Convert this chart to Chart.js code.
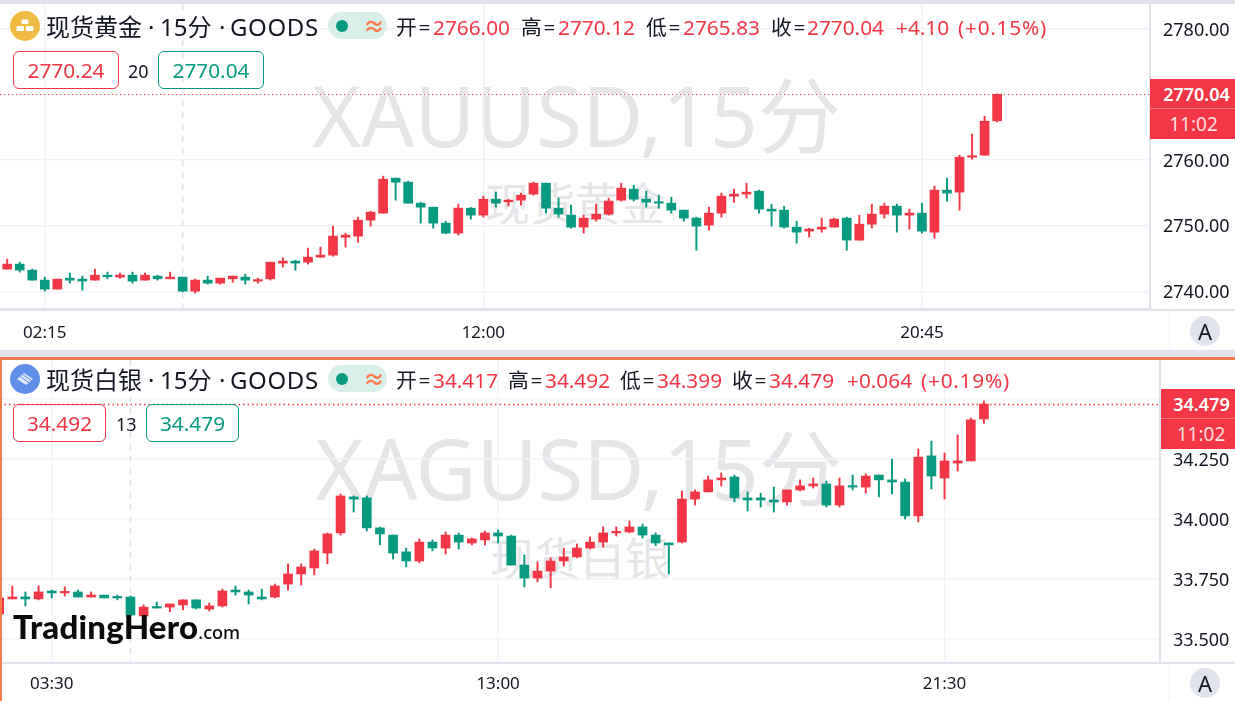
<!DOCTYPE html>
<html><head><meta charset="utf-8">
<script src="https://cdn.jsdelivr.net/npm/chart.js@4/dist/chart.umd.min.js"></script>
<style>
html,body{margin:0;padding:0;background:#fff;overflow:hidden;width:1235px;height:701px;font-family:"Noto Sans","Noto Sans CJK SC",sans-serif;color:#131722}
.abs{position:absolute;white-space:nowrap;line-height:1}
canvas{position:absolute;left:0}
.wm{color:#e6e6e9}
.wm1{font-size:83.5px}
.wm2{font-size:45px}
.t{font-size:24px;color:#131722}
.o{font-size:20.8px;color:#131722}
.l{letter-spacing:1.6px}
.p{letter-spacing:.75px}
.r{color:#f23645}
.box{border:1.5px solid;border-radius:6px;box-sizing:border-box;height:38px;font-size:20.8px;line-height:36px;text-align:center;position:absolute}
.pill{position:absolute;left:328px;width:59px;height:27px;border-radius:13.5px;background:#d9f0ea}
.dot{position:absolute;left:8px;top:7.5px;width:12px;height:12px;border-radius:6px;background:#089981}
.wave{position:absolute;left:35px;top:2px;font-size:22px;line-height:22px;color:#ff7b4a;font-weight:700}
.ic{position:absolute;left:10px;width:30px;height:30px}
.pr{position:absolute;background:#f23645;color:#fff;text-align:center;box-sizing:border-box}
.aa{position:absolute;left:1190px;width:30px;height:30px;border-radius:15px;background:#e0e3eb;text-align:center;line-height:30px;font-size:22px;color:#131722}
.bar{position:absolute;background:#e0e3eb}
</style></head>
<body>
<!-- watermarks sit beneath the transparent canvases -->
<div class="abs wm wm1" style="left:312px;top:73px">XAUUSD,15分</div>
<div class="abs wm wm2" style="left:485px;top:181px">现货黄金</div>
<div class="abs wm wm1" style="left:315px;top:426px">XAGUSD,15分</div>
<div class="abs wm wm2" style="left:490px;top:536px">现货白银</div>

<canvas id="goldChart" width="1235" height="351" style="top:0;width:1235px;height:351px"></canvas>
<canvas id="silverChart" width="1235" height="350" style="top:351px;width:1235px;height:350px"></canvas>

<div class="bar" style="left:0;top:0;width:1235px;height:4px"></div>
<div class="bar" style="left:0;top:308.5px;width:1235px;height:2px"></div>
<div class="bar" style="left:0;top:662px;width:1235px;height:2px"></div>
<div class="bar" style="left:0;top:350px;width:1235px;height:8px"></div>
<div class="abs" style="left:0;top:357px;width:1235px;height:3px;background:#f97b4b"></div>
<div class="abs" style="left:0;top:357px;width:1.5px;height:344px;background:#f97b4b"></div>
<div class="abs" style="left:1169px;top:310px;width:1px;height:40px;background:#f0f3fa"></div>
<div class="abs" style="left:1169px;top:664px;width:1px;height:37px;background:#f0f3fa"></div>

<!-- gold header -->
<svg class="ic" style="top:11px" viewBox="0 0 30 30"><circle cx="15" cy="15" r="15" fill="#f0bb42"/><rect x="11.5" y="8.5" width="7" height="4.5" rx="1" fill="#fff"/><rect x="6.5" y="15" width="7.5" height="5" rx="1" fill="#fff"/><rect x="16" y="15" width="7.5" height="5" rx="1" fill="#fff"/></svg>
<div class="abs t" style="left:46px;top:15px">现货黄金</div>
<div class="abs t" style="left:148px;top:15px">·</div>
<div class="abs t" style="left:160px;top:15px">15分</div>
<div class="abs t" style="left:219px;top:15px">·</div>
<div class="abs t" style="left:230px;top:15px;letter-spacing:.6px">GOODS</div>
<div class="pill" style="top:12px"><div class="dot"></div><div class="wave">≈</div></div>
<div class="abs o l" style="left:396px;top:17px">开=</div><div class="abs o r" style="left:433px;top:17px">2766.00</div>
<div class="abs o l" style="left:521px;top:17px">高=</div><div class="abs o r" style="left:558px;top:17px">2770.12</div>
<div class="abs o l" style="left:646px;top:17px">低=</div><div class="abs o r" style="left:683px;top:17px">2765.83</div>
<div class="abs o l" style="left:771px;top:17px">收=</div><div class="abs o r" style="left:807px;top:17px">2770.04</div>
<div class="abs o r" style="left:896px;top:17px">+4.10</div><div class="abs o r p" style="left:958px;top:17px">(+0.15%)</div>
<div class="box" style="left:13px;top:51px;width:106px;color:#f23645;border-color:#f23645">2770.24</div>
<div class="abs" style="left:128px;top:62px;font-size:18px">20</div>
<div class="box" style="left:158px;top:51px;width:106px;color:#089981;border-color:#089981">2770.04</div>
<div class="pr" style="left:1150px;top:79px;width:85px;height:30px;line-height:31px;font-size:18px;font-weight:600;padding-left:8px;border-bottom:1px solid #f7727c">2770.04</div>
<div class="pr" style="left:1150px;top:109px;width:85px;height:30px;line-height:31px;font-size:19px;padding-left:2px;color:#fdd">11:02</div>
<div class="aa" style="top:316px">A</div>

<!-- silver header -->
<svg class="ic" style="top:364px" viewBox="0 0 30 30"><circle cx="15" cy="15" r="15" fill="#5f8fe8"/><path d="M7 15l7-6 9 6-7 6z" fill="#dfe8fb"/><path d="M10 12.5l9 6M12.5 10.5l9 6" stroke="#5f8fe8" stroke-width="1"/></svg>
<div class="abs t" style="left:46px;top:368px">现货白银</div>
<div class="abs t" style="left:148px;top:368px">·</div>
<div class="abs t" style="left:160px;top:368px">15分</div>
<div class="abs t" style="left:219px;top:368px">·</div>
<div class="abs t" style="left:230px;top:368px;letter-spacing:.6px">GOODS</div>
<div class="pill" style="top:365px"><div class="dot"></div><div class="wave">≈</div></div>
<div class="abs o l" style="left:396px;top:370px">开=</div><div class="abs o r" style="left:433px;top:370px">34.417</div>
<div class="abs o l" style="left:508px;top:370px">高=</div><div class="abs o r" style="left:545px;top:370px">34.492</div>
<div class="abs o l" style="left:620px;top:370px">低=</div><div class="abs o r" style="left:657px;top:370px">34.399</div>
<div class="abs o l" style="left:732px;top:370px">收=</div><div class="abs o r" style="left:769px;top:370px">34.479</div>
<div class="abs o r" style="left:847px;top:370px">+0.064</div><div class="abs o r p" style="left:921px;top:370px">(+0.19%)</div>
<div class="box" style="left:13px;top:404px;width:93px;color:#f23645;border-color:#f23645">34.492</div>
<div class="abs" style="left:116px;top:415px;font-size:18px">13</div>
<div class="box" style="left:146px;top:404px;width:93px;color:#089981;border-color:#089981">34.479</div>
<div class="pr" style="left:1161px;top:389px;width:74px;height:30px;line-height:31px;font-size:18px;font-weight:600;padding-left:7px;border-bottom:1px solid #f7727c">34.479</div>
<div class="pr" style="left:1161px;top:419px;width:74px;height:30px;line-height:31px;font-size:19px;padding-left:6px;color:#fdd">11:02</div>
<div class="aa" style="top:668px">A</div>

<div class="abs" style="left:13px;top:610px;font-family:Lato,sans-serif;font-weight:900;font-size:33px;color:#0b0b0b;letter-spacing:.2px">TradingHero<span style="font-family:'Noto Sans';font-weight:500;font-size:18px;letter-spacing:0">.com</span></div>

<script>
const upColor = '#f23645', downColor = '#089981';

const goldOpen = [2743.40,2744.16,2743.24,2741.72,2740.35,2742.02,2741.87,2741.72,2742.48,2742.18,
2742.48,2741.72,2742.33,2741.92,2742.18,2740.04,2741.72,2741.26,2741.92,2742.18,
2741.57,2741.92,2744.31,2744.62,2744.46,2745.22,2745.53,2748.27,2748.43,2750.86,
2751.93,2757.26,2756.65,2753.45,2752.84,2750.41,2748.88,2752.69,2751.63,2754.06,
2753.66,2753.91,2754.83,2756.50,2752.69,2751.63,2749.80,2751.02,2751.78,2753.91,
2755.59,2754.06,2753.61,2753.45,2752.39,2751.17,2750.10,2751.93,2754.52,2754.83,
2755.28,2752.54,2752.39,2749.80,2749.19,2749.49,2749.80,2751.17,2747.82,2750.25,
2751.78,2753.00,2751.63,2751.93,2749.03,2755.44,2755.13,2760.46,2760.77,2766.00];
const goldHigh = [2744.92,2744.46,2743.40,2742.18,2741.87,2742.79,2742.33,2743.40,2742.94,2742.79,
2742.94,2742.79,2742.48,2742.94,2742.18,2741.87,2742.33,2742.02,2742.33,2742.63,
2742.02,2744.46,2745.12,2744.77,2746.60,2746.75,2749.95,2748.88,2751.32,2752.24,
2757.57,2757.26,2756.81,2753.61,2752.84,2750.71,2753.30,2752.79,2754.52,2755.13,
2754.06,2754.98,2756.65,2756.50,2754.22,2753.15,2751.63,2753.30,2754.22,2756.50,
2756.20,2755.28,2754.67,2754.37,2752.39,2751.32,2752.84,2754.98,2755.59,2756.50,
2755.44,2753.30,2753.00,2750.71,2749.64,2751.17,2751.17,2751.32,2751.63,2753.30,
2753.45,2753.30,2752.54,2753.45,2756.05,2757.26,2760.77,2763.97,2766.71,2770.12];
const goldLow = [2743.40,2742.94,2741.72,2740.04,2740.35,2741.26,2740.20,2741.72,2741.92,2742.02,
2741.26,2741.72,2741.72,2741.92,2739.94,2739.74,2741.11,2741.11,2741.41,2741.11,
2741.26,2741.72,2743.70,2743.24,2744.16,2745.22,2745.38,2746.75,2747.51,2749.95,
2751.93,2753.91,2753.45,2750.41,2749.64,2748.78,2748.58,2751.02,2751.32,2752.84,
2753.00,2753.15,2754.67,2751.93,2751.32,2749.64,2748.88,2750.71,2751.63,2753.76,
2753.76,2752.84,2752.69,2751.93,2750.71,2746.29,2749.34,2751.32,2753.61,2754.22,
2751.93,2749.95,2749.64,2747.36,2748.27,2749.03,2749.80,2746.29,2747.82,2749.64,
2751.17,2749.03,2749.49,2748.88,2748.12,2753.76,2752.39,2760.16,2760.77,2765.83];
const goldClose = [2744.16,2743.24,2741.72,2740.35,2741.87,2741.72,2741.57,2742.48,2742.23,2742.48,
2741.57,2742.48,2741.92,2742.18,2740.04,2741.72,2741.26,2742.02,2742.33,2741.72,
2741.72,2744.46,2744.62,2744.31,2745.22,2745.53,2748.43,2748.58,2750.86,2752.08,
2757.11,2756.65,2753.45,2752.84,2750.41,2748.88,2752.69,2751.63,2754.06,2753.45,
2753.91,2754.67,2756.50,2752.69,2751.78,2749.80,2751.17,2751.78,2753.76,2755.74,
2754.06,2753.61,2753.45,2752.39,2751.17,2749.95,2751.93,2754.52,2754.83,2755.13,
2752.54,2752.24,2749.80,2749.03,2749.49,2749.80,2751.02,2747.82,2750.25,2751.78,
2753.00,2751.63,2751.93,2749.19,2755.44,2754.98,2760.46,2760.62,2765.95,2770.04];
const goldPriceTicks = [2740,2750,2760,2770,2780];
const goldTimeIndex = [3,38,73];
const goldTimeLabels = ['02:15','12:00','20:45'];
const goldSessionBreak = 14;

const silverOpen = [33.604,33.667,33.675,33.667,33.700,33.692,33.696,33.675,33.683,33.675,
33.675,33.596,33.633,33.633,33.642,33.663,33.625,33.638,33.704,33.696,
33.675,33.675,33.729,33.771,33.796,33.858,33.942,34.092,34.088,33.963,
33.933,33.863,33.825,33.904,33.879,33.933,33.900,33.913,33.942,33.929,
33.808,33.754,33.783,33.825,33.842,33.879,33.904,33.942,33.946,33.967,
33.933,33.900,33.904,34.083,34.113,34.163,34.175,34.088,34.088,34.079,
34.071,34.121,34.138,34.146,34.058,34.138,34.133,34.183,34.163,34.154,
34.013,34.263,34.171,34.233,34.242,34.417];
const silverHigh = [33.671,33.721,33.696,33.721,33.704,33.717,33.704,33.696,33.683,33.683,
33.679,33.642,33.654,33.646,33.663,33.663,33.650,33.708,33.721,33.704,
33.708,33.729,33.813,33.813,33.875,33.942,34.104,34.096,34.096,33.967,
33.933,33.879,33.917,33.913,33.946,33.942,33.921,33.950,33.954,33.933,
33.850,33.821,33.838,33.879,33.896,33.925,33.967,33.967,33.992,33.979,
33.942,33.900,34.117,34.121,34.179,34.192,34.183,34.113,34.108,34.133,
34.121,34.163,34.171,34.158,34.171,34.183,34.188,34.183,34.250,34.167,
34.292,34.325,34.275,34.350,34.421,34.492];
const silverLow = [33.604,33.667,33.638,33.663,33.671,33.679,33.675,33.675,33.671,33.663,
33.600,33.596,33.629,33.613,33.621,33.625,33.617,33.633,33.683,33.646,
33.663,33.671,33.704,33.725,33.767,33.813,33.933,34.029,33.950,33.892,
33.833,33.800,33.817,33.867,33.854,33.875,33.892,33.892,33.900,33.808,
33.717,33.738,33.713,33.804,33.838,33.875,33.883,33.929,33.942,33.921,
33.888,33.771,33.900,34.058,34.113,34.138,34.071,34.033,34.050,34.029,
34.058,34.117,34.129,34.050,34.050,34.121,34.108,34.092,34.104,34.000,
33.988,34.125,34.083,34.200,34.242,34.399];
const silverClose = [33.671,33.675,33.667,33.696,33.692,33.696,33.675,33.683,33.671,33.671,
33.600,33.633,33.629,33.646,33.663,33.629,33.638,33.700,33.696,33.683,
33.667,33.721,33.771,33.800,33.867,33.938,34.096,34.083,33.963,33.938,
33.858,33.825,33.904,33.879,33.933,33.904,33.917,33.942,33.929,33.808,
33.754,33.783,33.825,33.842,33.879,33.904,33.942,33.946,33.967,33.933,
33.900,33.892,34.083,34.113,34.163,34.171,34.088,34.079,34.079,34.071,
34.121,34.138,34.146,34.058,34.138,34.133,34.179,34.163,34.154,34.013,
34.258,34.179,34.242,34.242,34.413,34.479];
const silverPriceTicks = [33.5,33.75,34,34.25,34.5];
const silverTimeIndex = [4,38,72];
const silverTimeLabels = ['03:30','13:00','21:30'];
const silverSessionBreak = 10;

const FONT = '"Noto Sans","Noto Sans CJK SC",sans-serif';

function candleChart(id, o, h, l, c, cfg) {
  const colors = o.map((v, i) => c[i] >= v ? upColor : downColor);
  const overlay = {
    id: 'overlay',
    beforeDatasetsDraw(chart) {
      const { ctx, chartArea: a, scales: { x } } = chart;
      ctx.save();
      ctx.strokeStyle = '#e0e3eb'; ctx.lineWidth = 1.5; ctx.setLineDash([6, 6]);
      const bx = x.getPixelForValue(cfg.breakIdx);
      ctx.beginPath(); ctx.moveTo(bx, a.top); ctx.lineTo(bx, a.bottom); ctx.stroke();
      ctx.restore();
    },
    afterDatasetsDraw(chart) {
      const { ctx, chartArea: a, scales: { y } } = chart;
      const py = Math.round(y.getPixelForValue(c[c.length - 1])) + 0.5;
      ctx.save();
      ctx.strokeStyle = upColor; ctx.lineWidth = cfg.dotWidth; ctx.setLineDash(cfg.dotDash);
      ctx.beginPath(); ctx.moveTo(a.left, py); ctx.lineTo(a.right, py); ctx.stroke();
      ctx.restore();
    }
  };
  return new Chart(document.getElementById(id), {
    type: 'bar',
    data: {
      datasets: [
        { label: 'wick', data: o.map((_, i) => ({ x: i, y: [l[i], h[i]] })), backgroundColor: colors, barThickness: 1.3, grouped: false, order: 2, minBarLength: 1 },
        { label: 'body', data: o.map((v, i) => ({ x: i, y: [v, c[i]] })), backgroundColor: colors, barThickness: 9, grouped: false, order: 1, minBarLength: 1.5 }
      ]
    },
    options: {
      responsive: false, animation: false, devicePixelRatio: 1,
      layout: { padding: { top: cfg.padTop, left: 0, right: 0, bottom: 0 } },
      plugins: { legend: { display: false }, tooltip: { enabled: false } },
      scales: {
        x: {
          type: 'linear', min: cfg.xMin, max: cfg.xMax, offset: false,
          grid: { offset: false, color: '#f2f3f8', lineWidth: 1.5, drawTicks: false },
          border: { color: '#e0e3eb', width: 2 },
          ticks: {
            color: '#131722', font: { family: FONT, size: 17 }, padding: cfg.xPad, maxRotation: 0, autoSkip: false,
            callback: v => cfg.timeLabels[cfg.timeIdx.indexOf(v)]
          },
          afterBuildTicks(s) { s.ticks = cfg.timeIdx.map(value => ({ value })); },
          afterFit(s) { s.height = cfg.axisH; s.paddingLeft = 0; s.paddingRight = 0; }
        },
        y: {
          position: 'right', min: cfg.yMin, max: cfg.yMax,
          grid: { color: '#f2f3f8', lineWidth: 1.5, drawTicks: false },
          border: { color: '#e0e3eb', width: 2 },
          ticks: {
            color: '#131722', font: { family: FONT, size: 18 }, padding: 13, crossAlign: 'near', labelOffset: 1.5,
            callback: v => v.toFixed(cfg.dec)
          },
          afterBuildTicks(s) { s.ticks = cfg.ticks.map(value => ({ value })); },
          afterFit(s) { s.width = cfg.axisW; s.paddingTop = 0; s.paddingBottom = 0; }
        }
      }
    },
    plugins: [overlay]
  });
}

candleChart('goldChart', goldOpen, goldHigh, goldLow, goldClose, {
  xMin: -0.5746, xMax: 91.2, yMin: 2737.32, yMax: 2783.81,
  ticks: goldPriceTicks, timeIdx: goldTimeIndex, timeLabels: goldTimeLabels, breakIdx: goldSessionBreak,
  dec: 2, padTop: 4, axisH: 42, axisW: 85, xPad: 14, dotWidth: 1, dotDash: [1, 3]
});
candleChart('silverChart', silverOpen, silverHigh, silverLow, silverClose, {
  xMin: 0.0632, xMax: 88.41, yMin: 33.4, yMax: 34.6625,
  ticks: silverPriceTicks, timeIdx: silverTimeIndex, timeLabels: silverTimeLabels, breakIdx: silverSessionBreak,
  dec: 3, padTop: 9, axisH: 38, axisW: 75, xPad: 11, dotWidth: 1.5, dotDash: [1.5, 3]
});
</script>
</body></html>
